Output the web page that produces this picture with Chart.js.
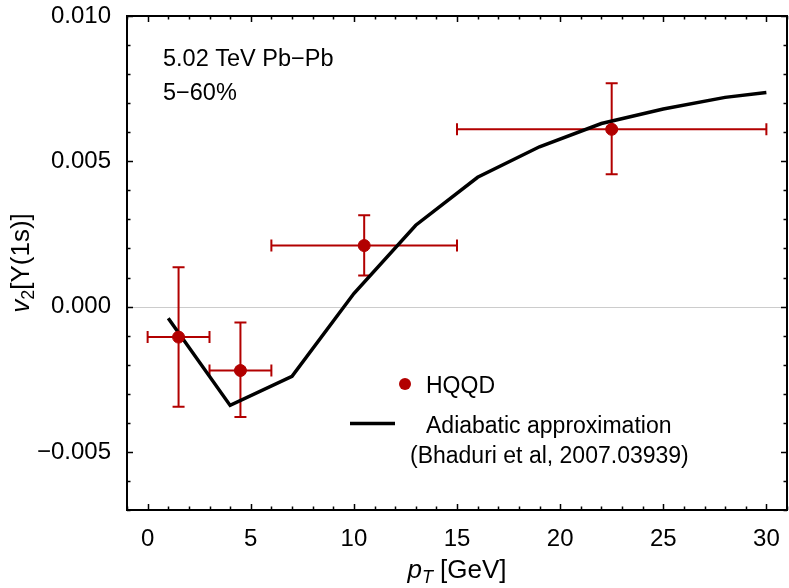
<!DOCTYPE html>
<html>
<head>
<meta charset="utf-8">
<script src="https://cdn.jsdelivr.net/npm/chart.js@4.4.1/dist/chart.umd.min.js"></script>
<style>
  html, body { margin: 0; padding: 0; background: #fff; overflow: hidden; }
  #wrap { width: 789px; height: 588px; }
  canvas { display: block; }
</style>
</head>
<body>
<div id="wrap"><canvas id="v2Chart" width="789" height="588"></canvas></div>
<script>
// HQQD points, x errors (bin edges) and asymmetric y errors
const hqqdPt = [1.5, 4.5, 10.5, 22.5];
const hqqdV2 = [-0.00105, -0.0022, 0.0021, 0.0061];
const hqqdPtLo = [0, 3, 6, 15];
const hqqdPtHi = [3, 6, 15, 30];
const hqqdV2Lo = [-0.00345, -0.0038, 0.00107, 0.00455];
const hqqdV2Hi = [0.00135, -0.00055, 0.00314, 0.00769];

// adiabatic approximation curve (Bhaduri et al)
const adiaPt = [1, 4, 7, 10, 13, 16, 19, 22, 25, 28, 30];
const adiaV2 = [-0.0004, -0.0034, -0.0024, 0.00045, 0.0028, 0.00445, 0.0055, 0.0063, 0.0068, 0.0072, 0.00737];

const xTicks = [0, 5, 10, 15, 20, 25, 30];
const xTickLabels = ["0", "5", "10", "15", "20", "25", "30"];
const yTicks = [-0.005, 0, 0.005, 0.01];
const yTickLabels = ["\u22120.005", "0.000", "0.005", "0.010"];

const RED = "#b20000";
const FONT = "'Liberation Sans', Arial, sans-serif";

// frame + inward ticks on every side, like the original plot
const framePlugin = {
  id: "frame",
  beforeDatasetsDraw(chart) {
    const { ctx, chartArea: a, scales: { x, y } } = chart;
    ctx.save();
    // zero line
    ctx.strokeStyle = "#cccccc";
    ctx.lineWidth = 1;
    const y0 = Math.round(y.getPixelForValue(0)) + 0.5;
    ctx.beginPath(); ctx.moveTo(a.left, y0); ctx.lineTo(a.right, y0); ctx.stroke();

    // error bars
    ctx.strokeStyle = RED;
    ctx.lineWidth = 2;
    const cap = 6;
    hqqdPt.forEach((pt, i) => {
      const px = x.getPixelForValue(pt), py = y.getPixelForValue(hqqdV2[i]);
      const xl = x.getPixelForValue(hqqdPtLo[i]), xr = x.getPixelForValue(hqqdPtHi[i]);
      const yl = y.getPixelForValue(hqqdV2Lo[i]), yh = y.getPixelForValue(hqqdV2Hi[i]);
      ctx.beginPath();
      ctx.moveTo(xl, py); ctx.lineTo(xr, py);
      ctx.moveTo(xl, py - cap); ctx.lineTo(xl, py + cap);
      ctx.moveTo(xr, py - cap); ctx.lineTo(xr, py + cap);
      ctx.moveTo(px, yl); ctx.lineTo(px, yh);
      ctx.moveTo(px - cap, yl); ctx.lineTo(px + cap, yl);
      ctx.moveTo(px - cap, yh); ctx.lineTo(px + cap, yh);
      ctx.stroke();
    });
    ctx.restore();
  },
  afterDraw(chart) {
    const { ctx, chartArea: a, scales: { x, y } } = chart;
    ctx.save();
    ctx.strokeStyle = "#000";
    ctx.lineWidth = 1.5;
    // x ticks (major every 5, minor every 1)
    for (let v = -1; v <= 31; v++) {
      const px = Math.round(x.getPixelForValue(v)) + 0.5;
      const len = v % 5 === 0 ? 6 : 3.5;
      ctx.beginPath();
      ctx.moveTo(px, a.bottom); ctx.lineTo(px, a.bottom - len);
      ctx.moveTo(px, a.top); ctx.lineTo(px, a.top + len);
      ctx.stroke();
    }
    // y ticks (major every 0.005, minor every 0.001)
    for (let k = -7; k <= 10; k++) {
      const py = Math.round(y.getPixelForValue(k / 1000)) + 0.5;
      const len = k % 5 === 0 ? 6 : 3.5;
      ctx.beginPath();
      ctx.moveTo(a.left, py); ctx.lineTo(a.left + len, py);
      ctx.moveTo(a.right, py); ctx.lineTo(a.right - len, py);
      ctx.stroke();
    }
    ctx.lineWidth = 2;
    ctx.strokeRect(a.left, a.top, a.right - a.left, a.bottom - a.top);

    // annotation
    ctx.fillStyle = "#000";
    ctx.textBaseline = "alphabetic";
    ctx.textAlign = "left";
    ctx.font = "23.5px " + FONT;
    ctx.fillText("5.02 TeV Pb\u2212Pb", 163, 66);
    ctx.fillText("5\u221260%", 163, 100);

    // legend
    ctx.fillStyle = RED;
    ctx.beginPath(); ctx.arc(405, 384, 6, 0, Math.PI * 2); ctx.fill();
    ctx.strokeStyle = "#000"; ctx.lineWidth = 3.5;
    ctx.beginPath(); ctx.moveTo(350, 423.5); ctx.lineTo(395, 423.5); ctx.stroke();
    ctx.fillStyle = "#000";
    ctx.font = "23px " + FONT;
    ctx.fillText("HQQD", 426, 393);
    ctx.fillText("Adiabatic approximation", 426, 433);
    ctx.fillText("(Bhaduri et al, 2007.03939)", 410, 463);

    // x title: p_T [GeV]
    const big = "italic 26px " + FONT, sub = "italic 18px " + FONT, norm = "26px " + FONT;
    ctx.font = big; const wp = ctx.measureText("p").width;
    ctx.font = sub; const wt = ctx.measureText("T").width;
    ctx.font = norm; const wg = ctx.measureText(" [GeV]").width;
    let cx = (a.left + a.right) / 2 - (wp + wt + wg) / 2;
    const by = 578;
    ctx.font = big; ctx.fillText("p", cx, by); cx += wp;
    ctx.font = sub; ctx.fillText("T", cx, by + 5); cx += wt;
    ctx.font = norm; ctx.fillText(" [GeV]", cx, by);

    // y title: v_2[Υ(1s)]
    ctx.translate(29, (a.top + a.bottom) / 2);
    ctx.rotate(-Math.PI / 2);
    const subN = "18px " + FONT;
    ctx.font = big; const wv = ctx.measureText("v").width;
    ctx.font = subN; const w2 = ctx.measureText("2").width;
    ctx.font = norm; const wr = ctx.measureText("[\u03A5(1s)]").width;
    let tx = -(wv + w2 + wr) / 2;
    ctx.font = big; ctx.fillText("v", tx, 0); tx += wv;
    ctx.font = subN; ctx.fillText("2", tx, 5); tx += w2;
    ctx.font = norm; ctx.fillText("[\u03A5(1s)]", tx, 0);
    ctx.restore();
  }
};

new Chart(document.getElementById("v2Chart"), {
  type: "scatter",
  data: {
    datasets: [
      {
        label: "HQQD",
        data: hqqdPt.map((v, i) => ({ x: v, y: hqqdV2[i] })),
        backgroundColor: RED,
        borderColor: RED,
        pointRadius: 6,
        pointHoverRadius: 6
      },
      {
        type: "line",
        label: "Adiabatic approximation",
        data: adiaPt.map((v, i) => ({ x: v, y: adiaV2[i] })),
        borderColor: "#000",
        borderWidth: 3.5,
        pointRadius: 0,
        fill: false,
        tension: 0
      }
    ]
  },
  options: {
    responsive: false,
    animation: false,
    layout: { autoPadding: false, padding: { top: 16, right: 2, left: 0, bottom: 0 } },
    plugins: { legend: { display: false }, tooltip: { enabled: false } },
    scales: {
      x: {
        type: "linear", min: -1, max: 31,
        grid: { display: false },
        border: { display: false },
        afterBuildTicks: (s) => { s.ticks = xTicks.map(v => ({ value: v })); },
        afterFit: (s) => { s.height = 78; s.paddingLeft = 0; s.paddingRight = 0; },
        ticks: {
          padding: 7, color: "#000",
          font: { family: FONT, size: 24 },
          callback: (v) => xTickLabels[xTicks.indexOf(v)]
        }
      },
      y: {
        type: "linear", min: -0.007, max: 0.01,
        grid: { display: false },
        border: { display: false },
        afterBuildTicks: (s) => { s.ticks = yTicks.map(v => ({ value: v })); },
        afterFit: (s) => { s.width = 127; s.paddingTop = 0; s.paddingBottom = 0; },
        ticks: {
          padding: 8, color: "#000",
          font: { family: FONT, size: 24 },
          callback: (v) => yTickLabels[yTicks.findIndex(t => Math.abs(t - v) < 1e-9)]
        }
      }
    }
  },
  plugins: [framePlugin]
});
</script>
</body>
</html>
